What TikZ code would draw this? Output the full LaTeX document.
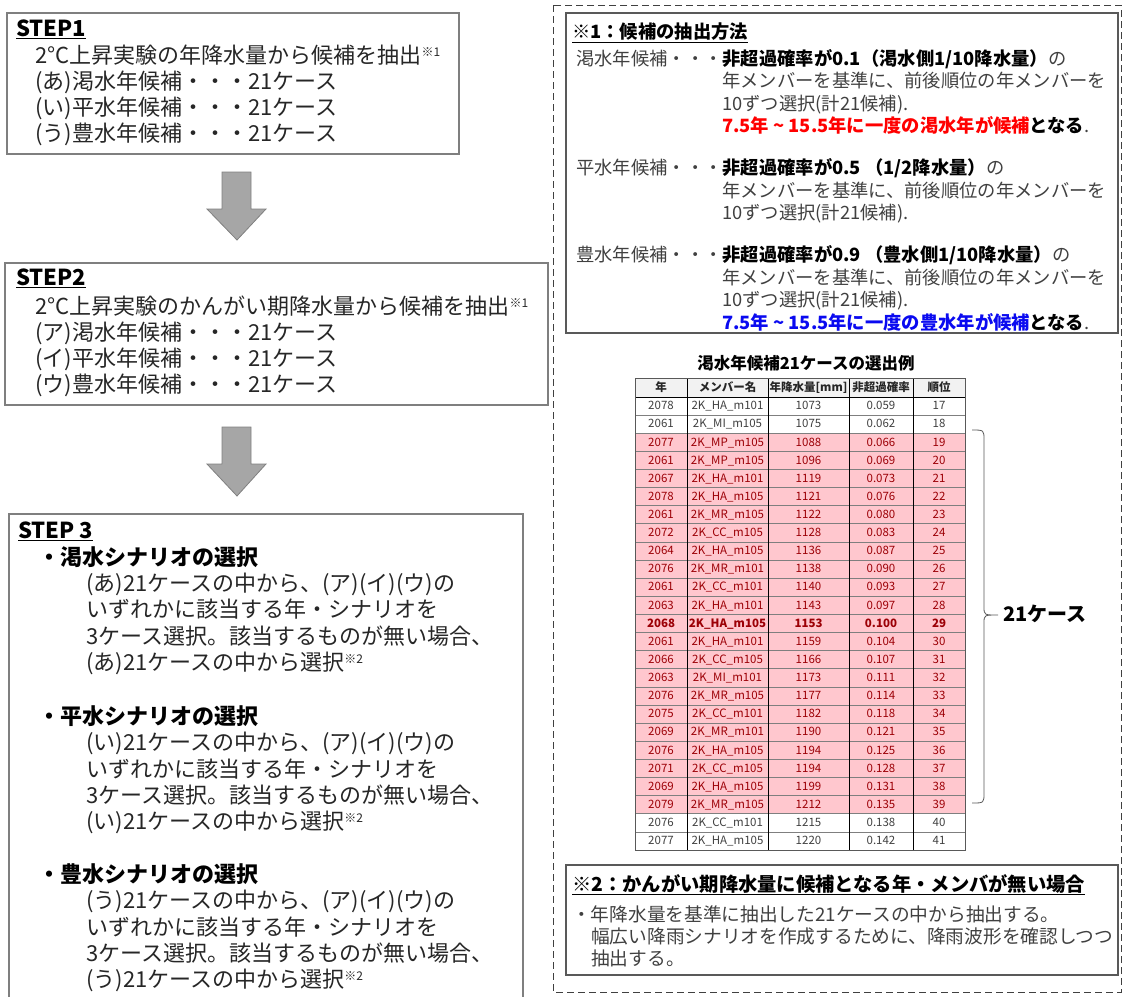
\documentclass[tikz,border=0pt]{standalone}
\usepackage{fontspec}
\setmainfont{Noto Sans CJK JP}
\definecolor{txt}{HTML}{262626}
\definecolor{gtxt}{HTML}{404040}
\definecolor{boxline}{HTML}{7F7F7F}
\definecolor{darkline}{HTML}{595959}
\definecolor{arrfill}{HTML}{A6A6A6}
\definecolor{arrline}{HTML}{808080}
\definecolor{pinkbg}{HTML}{FFC7CE}
\definecolor{pinktxt}{HTML}{9C0006}
\definecolor{hdrbg}{HTML}{F2F2F2}
\definecolor{blu}{HTML}{0A0AF0}
\definecolor{rd}{HTML}{FF0000}
\newcommand{\supnote}[1]{\raisebox{7pt}{\fontsize{12}{12}\selectfont #1}}
\begin{document}
\begin{tikzpicture}[x=1pt,y=-1pt,
 L/.style={anchor=west,inner sep=0pt,font=\fontsize{22}{26}\selectfont,text height=19.4pt,text depth=2.65pt,text=txt},
 LB/.style={L,font=\fontsize{22}{26}\selectfont\bfseries,text=black},
 R/.style={anchor=west,inner sep=0pt,font=\fontsize{18.3}{22}\selectfont,text height=16.1pt,text depth=2.2pt,text=gtxt},
 RB/.style={R,font=\fontsize{18.3}{22}\selectfont\bfseries,text=black},
 N/.style={anchor=west,inner sep=0pt,font=\fontsize{18.7}{23}\selectfont,text height=16.5pt,text depth=2.2pt,text=gtxt},
 NB/.style={N,font=\fontsize{19.3}{23}\selectfont\bfseries,text=black},
 frame/.style={draw=boxline,line width=1.2pt},
 frame2/.style={draw=darkline,line width=1.5pt},
 blockarrow/.style={fill=arrfill,draw=arrline,line width=0.8pt},
 cell/.style={anchor=center,inner sep=0pt,font=\fontsize{11.5}{12}\selectfont,text height=8.6pt,text depth=1.2pt},
 hcell/.style={cell,font=\fontsize{11.5}{12}\selectfont\bfseries,text=txt},
]
\useasboundingbox (0,0) rectangle (1124,996);

% ---------------- STEP1 ----------------
\draw[frame] (7,13) rectangle (459,154);
\node[LB] (s1t) at (16,28) {\underline{STEP1}};
\node[L] (s1a) at (35,55) {2°C上昇実験の年降水量から候補を抽出\supnote{※1}};
\node[L] (s1b) at (35,81) {(あ)渇水年候補・・・21ケース};
\node[L] (s1c) at (35,107) {(い)平水年候補・・・21ケース};
\node[L] (s1d) at (35,133) {(う)豊水年候補・・・21ケース};

\draw[blockarrow] (222,172) -- (251,172) -- (251,209) -- (266,209) -- (237,240) -- (207,209) -- (222,209) -- cycle;

% ---------------- STEP2 ----------------
\draw[frame] (5,263) rectangle (548,405);
\node[LB] (s2t) at (16,277) {\underline{STEP2}};
\node[L] (s2a) at (35,306) {2°C上昇実験のかんがい期降水量から候補を抽出\supnote{※1}};
\node[L] (s2b) at (35,332) {(ア)渇水年候補・・・21ケース};
\node[L] (s2c) at (35,358) {(イ)平水年候補・・・21ケース};
\node[L] (s2d) at (35,384) {(ウ)豊水年候補・・・21ケース};

\draw[blockarrow] (222,427) -- (251,427) -- (251,464) -- (266,464) -- (237,496) -- (207,464) -- (222,464) -- cycle;

% ---------------- STEP3 ----------------
\draw[frame] (9,1002) -- (9,514) -- (523,514) -- (523,1002);
\node[LB] (s3t) at (18,530) {\underline{STEP 3}};
\node[LB] (h1) at (38,557) {・渇水シナリオの選択};
\node[L] (h1a) at (86,583) {(あ)21ケースの中から、(ア)(イ)(ウ)の};
\node[L] (h1b) at (86,609) {いずれかに該当する年・シナリオを};
\node[L] (h1c) at (86,636) {3ケース選択。該当するものが無い場合、};
\node[L] (h1d) at (86,662) {(あ)21ケースの中から選択\supnote{※2}};
\node[LB] (h2) at (38,716) {・平水シナリオの選択};
\node[L] (h2a) at (86,742) {(い)21ケースの中から、(ア)(イ)(ウ)の};
\node[L] (h2b) at (86,769) {いずれかに該当する年・シナリオを};
\node[L] (h2c) at (86,795) {3ケース選択。該当するものが無い場合、};
\node[L] (h2d) at (86,821) {(い)21ケースの中から選択\supnote{※2}};
\node[LB] (h3) at (38,874) {・豊水シナリオの選択};
\node[L] (h3a) at (86,900) {(う)21ケースの中から、(ア)(イ)(ウ)の};
\node[L] (h3b) at (86,927) {いずれかに該当する年・シナリオを};
\node[L] (h3c) at (86,953) {3ケース選択。該当するものが無い場合、};
\node[L] (h3d) at (86,979) {(う)21ケースの中から選択\supnote{※2}};

% ---------------- right dashed panel ----------------
\draw[draw=gtxt,line width=1pt,dash pattern=on 7pt off 4pt] (553,5) rectangle (1121,992);

% note 1
\draw[frame2] (566,13) rectangle (1118,333);
\node[RB] (n1t) at (572,32) {\underline{※1：候補の抽出方法}};
\node[R] (k1) at (576,58.5) {渇水年候補・・・\textcolor{black}{\bfseries 非超過確率が0.1（渇水側1/10降水量）}の};
\node[R] (k1a) at (722,81) {年メンバーを基準に、前後順位の年メンバーを};
\node[R] (k1b) at (722,103.5) {10ずつ選択(計21候補).};
\node[R] (k1c) at (722,126) {{\bfseries\color{rd}7.5年 \textasciitilde{} 15.5年に一度の渇水年が候補\color{black}となる}.};
\node[R] (k2) at (576,168) {平水年候補・・・\textcolor{black}{\bfseries 非超過確率が0.5 （1/2降水量）}の};
\node[R] (k2a) at (722,190.5) {年メンバーを基準に、前後順位の年メンバーを};
\node[R] (k2b) at (722,213) {10ずつ選択(計21候補).};
\node[R] (k3) at (576,255) {豊水年候補・・・\textcolor{black}{\bfseries 非超過確率が0.9 （豊水側1/10降水量）}の};
\node[R] (k3a) at (722,277.5) {年メンバーを基準に、前後順位の年メンバーを};
\node[R] (k3b) at (722,300) {10ずつ選択(計21候補).};
\node[R] (k3c) at (722,322.5) {{\bfseries\color{blu}7.5年 \textasciitilde{} 15.5年に一度の豊水年が候補\color{black}となる}.};

% table
\node[anchor=center,inner sep=0pt,font=\fontsize{16.5}{18}\selectfont\bfseries,text height=14.5pt,text depth=2pt] (ttl) at (806,363) {渇水年候補21ケースの選出例};
\fill[hdrbg] (635,378) rectangle (965,397);
\fill[pinkbg] (635,433.24) rectangle (965,813.76);
\node[hcell] (hd1) at (661,387.5) {年};
\node[hcell] (hd2) at (727.5,387.5) {メンバー名};
\node[hcell] (hd3) at (808.5,387.5) {年降水量[mm]};
\node[hcell] (hd4) at (881,387.5) {非超過確率};
\node[hcell] (hd5) at (939,387.5) {順位};
\foreach \yr/\mb/\pr/\pb/\rk [count=\i] in {
2078/2K\_HA\_m101/1073/0.059/17,
2061/2K\_MI\_m105/1075/0.062/18,
2077/2K\_MP\_m105/1088/0.066/19,
2061/2K\_MP\_m105/1096/0.069/20,
2067/2K\_HA\_m101/1119/0.073/21,
2078/2K\_HA\_m105/1121/0.076/22,
2061/2K\_MR\_m105/1122/0.080/23,
2072/2K\_CC\_m105/1128/0.083/24,
2064/2K\_HA\_m105/1136/0.087/25,
2076/2K\_MR\_m101/1138/0.090/26,
2061/2K\_CC\_m101/1140/0.093/27,
2063/2K\_HA\_m101/1143/0.097/28,
2068/2K\_HA\_m105/1153/0.100/29,
2061/2K\_HA\_m101/1159/0.104/30,
2066/2K\_CC\_m105/1166/0.107/31,
2063/2K\_MI\_m101/1173/0.111/32,
2076/2K\_MR\_m105/1177/0.114/33,
2075/2K\_CC\_m101/1182/0.118/34,
2069/2K\_MR\_m101/1190/0.121/35,
2076/2K\_HA\_m105/1194/0.125/36,
2071/2K\_CC\_m105/1194/0.128/37,
2069/2K\_HA\_m105/1199/0.131/38,
2079/2K\_MR\_m105/1212/0.135/39,
2076/2K\_CC\_m101/1215/0.138/40,
2077/2K\_HA\_m105/1220/0.142/41}{
  \pgfmathsetmacro\cy{397+(\i-0.5)*18.12}
  \ifnum\i>2\relax\ifnum\i<24\relax\def\tc{pinktxt}\else\def\tc{gtxt}\fi\else\def\tc{gtxt}\fi
  \ifnum\i=13\relax\def\fw{\bfseries}\else\def\fw{}\fi
  \node[cell,text=\tc] (r\i c1) at (661,\cy) {\fw\yr};
  \node[cell,text=\tc] (r\i c2) at (727.5,\cy) {\fw\mb};
  \node[cell,text=\tc] (r\i c3) at (808.5,\cy) {\fw\pr};
  \node[cell,text=\tc] (r\i c4) at (881,\cy) {\fw\pb};
  \node[cell,text=\tc] (r\i c5) at (939,\cy) {\fw\rk};
}
\foreach \k in {1,...,24}{
  \draw[draw=boxline,line width=0.7pt] (635,397+\k*18.12) -- (965,397+\k*18.12);
}
\draw[draw=black,line width=0.9pt] (635,397) -- (965,397);
\foreach \xx in {687,768,849,913}{
  \draw[draw=black,line width=0.9pt] (\xx,378) -- (\xx,850);
}
\draw[draw=darkline,line width=1pt] (635,378) rectangle (965,850);

% brace
\coordinate (bt) at (972,430);
\coordinate (bb) at (972,803);
\coordinate (bm) at (998,615);
\node[anchor=west,inner sep=0pt,font=\fontsize{20}{24}\selectfont\bfseries,text height=17.6pt,text depth=2.4pt] (lab) at (1003,614) {21ケース};
\draw[draw=darkline,line width=0.8pt] (bt) .. controls (984,430) .. (984,440) -- (984,607)
  .. controls (984,615) .. (bm) .. controls (984,615) .. (984,623) -- (984,793) .. controls (984,803) .. (bb);

% note 2
\draw[frame2] (566,865) rectangle (1118,975);
\node[NB] (n2t) at (572,884) {\underline{※2：かんがい期降水量に候補となる年・メンバが無い場合}};
\node[N] (m1) at (572,914) {・年降水量を基準に抽出した21ケースの中から抽出する。};
\node[N] (m2) at (591,936) {幅広い降雨シナリオを作成するために、降雨波形を確認しつつ};
\node[N] (m3) at (591,958) {抽出する。};
\end{tikzpicture}
\end{document}
